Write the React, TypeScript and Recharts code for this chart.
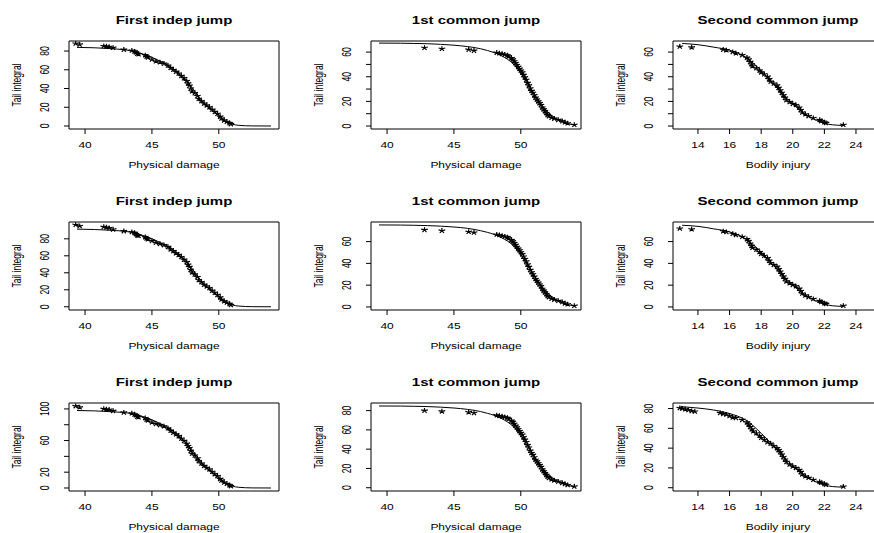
import { ComposedChart, Line, Scatter, XAxis, YAxis, ReferenceArea } from 'recharts'

const FONT = '"Liberation Sans", Arial, Helvetica, sans-serif'
// the source figure is squashed vertically, so text is too
const SQUISH = 0.71

const titles = ['First indep jump', '1st common jump', 'Second common jump']
const xTitles = ['Physical damage', 'Physical damage', 'Bodily injury']
const yTitle = 'Tail integral'

const damageTicks = [40, 45, 50]
const injuryTicks = [14, 16, 18, 20, 22, 24]
const damageDomain: [number, number] = [38.8, 54.5]
const injuryDomain: [number, number] = [12.42, 25.71]

// y axis ticks / labelled ticks / domains, one per panel (row by row)
const yTicks = [
  [[0, 20, 40, 60, 80], [0, 10, 20, 30, 40, 50, 60], [0, 10, 20, 30, 40, 50, 60]],
  [[0, 20, 40, 60, 80], [0, 20, 40, 60], [0, 20, 40, 60]],
  [[0, 20, 40, 60, 80, 100], [0, 20, 40, 60, 80], [0, 20, 40, 60, 80]],
]
const yLabelled = [
  [[0, 20, 40, 60, 80], [0, 20, 40, 60], [0, 20, 40, 60]],
  [[0, 20, 40, 60, 80], [0, 20, 40, 60], [0, 20, 40, 60]],
  [[0, 20, 60, 100], [0, 20, 40, 60, 80], [0, 20, 40, 60, 80]],
]
const yDomains: [number, number][][] = [
  [[-3.2, 90.7], [-2.4, 69], [-2.4, 69]],
  [[-3.8, 99.8], [-2.8, 78], [-2.8, 78]],
  [[-3.8, 107.5], [-3.4, 87.9], [-3.3, 85.6]],
]

// ---- row 1 ----
const r1IndepStars = [
  [39.3, 88], [39.6, 87], [41.4, 85.3], [41.6, 85], [41.8, 84.5], [42.1, 83.5], [42.9, 81.5], [43.5, 80.5],
  [43.7, 79.5], [43.8, 78.5], [43.9, 77], [44.0, 76.5], [44.5, 75.5], [44.6, 74], [44.7, 73], [45.0, 71],
  [45.3, 69], [45.6, 68], [45.9, 66.5], [46.2, 64.5], [46.4, 62], [46.6, 60], [46.8, 58], [47.0, 56],
  [47.2, 53.5], [47.4, 51], [47.6, 48], [47.7, 45.5], [47.8, 43], [47.9, 40], [48.0, 37], [48.2, 35],
  [48.4, 32], [48.5, 29], [48.7, 26.5], [48.9, 24], [49.1, 22], [49.3, 20], [49.5, 17.5], [49.7, 15],
  [49.9, 13], [50.1, 10], [50.2, 8], [50.4, 6], [50.6, 4.5], [50.8, 3], [50.9, 2],
]
const r1IndepCurve = [
  [39.4, 83.9], [42, 82.5], [43.5, 80], [44.5, 76], [45.5, 70], [46.5, 62], [47.5, 49], [48, 41],
  [48.5, 31], [49, 23], [49.5, 17], [50, 11], [50.5, 5.5], [51, 2], [51.5, 0.7], [52.5, 0.1], [53.9, 0],
]
const r1FirstStars = [
  [42.8, 63.5], [44.1, 62.7], [46.1, 62], [46.5, 61.2], [48.2, 59.5], [48.4, 59], [48.6, 58.5], [48.8, 58],
  [49.0, 57.3], [49.1, 56.5], [49.3, 55], [49.4, 54], [49.5, 52.5], [49.6, 51], [49.7, 49.5], [49.8, 48],
  [49.9, 46.5], [50.0, 45], [50.1, 43.5], [50.2, 41.5], [50.3, 39.5], [50.4, 37.5], [50.5, 35], [50.6, 33],
  [50.7, 30.5], [50.8, 28.5], [50.9, 27], [51.0, 25], [51.1, 23], [51.2, 21.5], [51.3, 20], [51.4, 18.5],
  [51.5, 17], [51.6, 15], [51.7, 13.5], [51.8, 12], [51.9, 10.5], [52.0, 9], [52.1, 8], [52.3, 6.8],
  [52.5, 6], [52.8, 5], [53.1, 4], [53.3, 3], [53.5, 2.2], [54.0, 1],
]
const r1FirstCurve = [
  [39.4, 67.3], [41, 67.2], [42, 67], [43, 66.8], [44, 66.3], [45, 65.6], [46, 64.5], [47, 62.7],
  [47.5, 61.3], [48, 59.6], [48.5, 57.3], [49, 54.2], [49.5, 49.8], [50, 43], [50.5, 34.5], [51, 26],
  [51.5, 18], [52, 11.5], [52.5, 7], [53, 3.9], [53.5, 2], [54, 1],
]
const r1SecondStars = [
  [12.85, 64.5], [13.6, 63.8], [15.6, 62], [15.8, 61.5], [16.2, 60], [16.4, 59], [16.8, 57.5], [17.1, 55.5],
  [17.2, 54], [17.3, 52], [17.4, 50], [17.45, 48.5], [17.7, 47], [17.9, 45], [18.0, 43.5], [18.2, 42],
  [18.4, 40], [18.5, 38], [18.6, 36], [18.8, 34.5], [19.0, 33], [19.1, 31], [19.2, 29], [19.3, 27],
  [19.4, 25], [19.5, 23], [19.6, 21], [19.8, 19.5], [20.0, 18], [20.2, 17], [20.4, 15], [20.5, 13],
  [20.6, 11], [20.8, 9.5], [21.0, 8], [21.3, 6.5], [21.7, 5], [21.8, 4], [22.0, 3], [22.1, 2.5], [23.2, 1],
]
const r1SecondCurve = [
  [13.0, 67], [14, 66], [15, 64], [16, 61.5], [17, 56], [17.5, 51], [18, 45], [18.5, 38], [19, 31],
  [19.5, 24], [20, 18], [20.5, 12.5], [21, 8], [21.5, 4.5], [22, 2.3], [22.5, 1], [23.2, 0.5],
]

// ---- row 2 ----
const r2IndepStars = [
  [39.3, 96.5], [39.6, 95], [41.4, 94], [41.6, 93.5], [41.8, 92.5], [42.1, 91], [42.9, 89], [43.5, 88],
  [43.7, 87], [43.8, 85.5], [43.9, 84], [44.0, 83.5], [44.5, 82], [44.6, 80.5], [44.7, 79.5], [45.0, 77.5],
  [45.3, 75.5], [45.6, 74], [45.9, 72.5], [46.2, 70.5], [46.4, 67.5], [46.6, 65.5], [46.8, 63], [47.0, 61],
  [47.2, 58.5], [47.4, 55.5], [47.6, 52.5], [47.7, 49.5], [47.8, 47], [47.9, 43.5], [48.0, 40.5], [48.2, 38],
  [48.4, 35], [48.5, 31.5], [48.7, 29], [48.9, 26], [49.1, 24], [49.3, 22], [49.5, 19], [49.7, 16.5],
  [49.9, 14], [50.1, 11], [50.2, 8.5], [50.4, 6.5], [50.6, 5], [50.8, 3.3], [50.9, 2],
]
const r2IndepCurve = [
  [39.4, 91.4], [42, 90], [43.5, 87.5], [44.5, 83], [45.5, 76.5], [46.5, 68], [47.5, 54], [48, 45],
  [48.5, 34], [49, 25], [49.5, 18], [50, 12], [50.5, 6], [51, 2.2], [51.5, 0.8], [52.5, 0.1], [53.9, 0],
]
const r2FirstStars = [
  [42.8, 70.7], [44.1, 70], [46.1, 69], [46.5, 68.3], [48.2, 66.5], [48.4, 66], [48.6, 65.3], [48.8, 64.7],
  [49.0, 64], [49.1, 63], [49.3, 61.3], [49.4, 60.2], [49.5, 58.5], [49.6, 57], [49.7, 55.2], [49.8, 53.5],
  [49.9, 52], [50.0, 50.2], [50.1, 48.5], [50.2, 46.3], [50.3, 44], [50.4, 41.8], [50.5, 39], [50.6, 36.8],
  [50.7, 34], [50.8, 31.8], [50.9, 30], [51.0, 27.8], [51.1, 25.6], [51.2, 24], [51.3, 22.3], [51.4, 20.6],
  [51.5, 19], [51.6, 16.7], [51.7, 15], [51.8, 13.4], [51.9, 11.7], [52.0, 10], [52.1, 9], [52.3, 7.6],
  [52.5, 6.7], [52.8, 5.6], [53.1, 4.5], [53.3, 3.3], [53.5, 2.4], [54.0, 1.1],
]
const r2FirstCurve = [
  [39.4, 75.3], [41, 75.2], [42, 75], [43, 74.7], [44, 74.2], [45, 73.4], [46, 72.2], [47, 70],
  [47.5, 68.5], [48, 66.6], [48.5, 64], [49, 60.5], [49.5, 55.6], [50, 48], [50.5, 38.5], [51, 29],
  [51.5, 20.2], [52, 12.8], [52.5, 7.8], [53, 4.3], [53.5, 2.2], [54, 1.1],
]
const r2SecondStars = [
  [12.85, 72], [13.6, 71.3], [15.6, 69.5], [15.8, 68.8], [16.2, 67.2], [16.4, 66], [16.8, 64.4], [17.1, 62.2],
  [17.2, 60.5], [17.3, 58.2], [17.4, 56], [17.45, 54.3], [17.7, 52.6], [17.9, 50.4], [18.0, 48.7], [18.2, 47],
  [18.4, 44.8], [18.5, 42.5], [18.6, 40.3], [18.8, 38.6], [19.0, 37], [19.1, 34.7], [19.2, 32.5], [19.3, 30.2],
  [19.4, 28], [19.5, 25.8], [19.6, 23.5], [19.8, 21.8], [20.0, 20.2], [20.2, 19], [20.4, 16.8], [20.5, 14.6],
  [20.6, 12.3], [20.8, 10.6], [21.0, 9], [21.3, 7.3], [21.7, 5.6], [21.8, 4.5], [22.0, 3.4], [22.1, 2.8], [23.2, 1.1],
]
const r2SecondCurve = [
  [13.0, 75], [14, 74], [15, 71.7], [16, 68.9], [17, 62.7], [17.5, 57.1], [18, 50.4], [18.5, 42.6],
  [19, 34.7], [19.5, 26.9], [20, 20.2], [20.5, 14], [21, 9], [21.5, 5], [22, 2.6], [22.5, 1.1], [23.2, 0.5],
]

// ---- row 3 ----
const r3IndepStars = [
  [39.3, 103.5], [39.6, 102], [41.4, 100], [41.6, 99.5], [41.8, 99], [42.1, 97.5], [42.9, 95.5], [43.5, 94.5],
  [43.7, 93], [43.8, 92], [43.9, 90], [44.0, 89.5], [44.5, 88.5], [44.6, 86.5], [44.7, 85.5], [45.0, 83],
  [45.3, 81], [45.6, 79.5], [45.9, 78], [46.2, 75.5], [46.4, 72.5], [46.6, 70], [46.8, 68], [47.0, 65.5],
  [47.2, 62.5], [47.4, 59.5], [47.6, 56], [47.7, 53], [47.8, 50.5], [47.9, 47], [48.0, 43.5], [48.2, 41],
  [48.4, 37.5], [48.5, 34], [48.7, 31], [48.9, 28], [49.1, 25.5], [49.3, 23.5], [49.5, 20.5], [49.7, 17.5],
  [49.9, 15], [50.1, 11.5], [50.2, 9.5], [50.4, 7], [50.6, 5.3], [50.8, 3.5], [50.9, 2.3],
]
const r3IndepCurve = [
  [39.4, 98], [42, 96.5], [43.5, 94], [44.5, 89.5], [45.5, 82.5], [46.5, 73], [47.5, 58], [48, 48.5],
  [48.5, 37], [49, 27], [49.5, 19.5], [50, 13], [50.5, 6.5], [51, 2.4], [51.5, 0.9], [52.5, 0.1], [53.9, 0],
]
const r3FirstStars = [
  [42.8, 80], [44.1, 79.2], [46.1, 78.3], [46.5, 77.5], [48.2, 75.2], [48.4, 74.5], [48.6, 74], [48.8, 73.3],
  [49.0, 72.4], [49.1, 71.3], [49.3, 69.5], [49.4, 68.2], [49.5, 66.3], [49.6, 64.4], [49.7, 62.5], [49.8, 60.6],
  [49.9, 58.7], [50.0, 56.8], [50.1, 55], [50.2, 52.4], [50.3, 49.9], [50.4, 47.4], [50.5, 44.2], [50.6, 41.7],
  [50.7, 38.5], [50.8, 36], [50.9, 34], [51.0, 31.6], [51.1, 29], [51.2, 27.2], [51.3, 25.3], [51.4, 23.4],
  [51.5, 21.5], [51.6, 19], [51.7, 17], [51.8, 15.2], [51.9, 13.3], [52.0, 11.4], [52.1, 10.1], [52.3, 8.6],
  [52.5, 7.6], [52.8, 6.3], [53.1, 5], [53.3, 3.8], [53.5, 2.8], [54.0, 1.3],
]
const r3FirstCurve = [
  [39.4, 84.8], [41, 84.7], [42, 84.5], [43, 84.2], [44, 83.6], [45, 82.7], [46, 81.3], [47, 79],
  [47.5, 77.2], [48, 75.1], [48.5, 72.2], [49, 68.3], [49.5, 62.7], [50, 54.2], [50.5, 43.5], [51, 32.8],
  [51.5, 22.7], [52, 14.4], [52.5, 8.8], [53, 4.9], [53.5, 2.5], [54, 1.2],
]
const r3SecondStars = [
  [12.85, 80.5], [13.0, 80], [13.2, 79.3], [13.4, 78.5], [13.6, 77.5], [13.8, 77], [15.4, 75.5], [15.6, 74.5],
  [15.8, 74], [16.0, 72.5], [16.2, 71], [16.4, 70.5], [16.8, 68.5], [17.1, 66], [17.2, 64], [17.3, 61.5],
  [17.4, 59], [17.5, 57], [17.7, 55], [17.9, 52.5], [18.0, 50.5], [18.2, 48.5], [18.4, 46], [18.6, 44.5],
  [18.8, 42], [19.0, 40], [19.1, 38], [19.2, 36], [19.3, 33.5], [19.4, 31], [19.5, 28.5], [19.6, 26],
  [19.8, 23.5], [20.0, 21.5], [20.2, 20], [20.4, 18], [20.5, 16], [20.6, 13.5], [20.8, 11.5], [21.0, 10],
  [21.3, 8], [21.7, 6], [21.8, 5], [22.0, 3.8], [22.1, 3], [23.2, 1.2],
]
const r3SecondCurve = [
  [12.9, 82], [14, 80.5], [15, 78.5], [16, 75], [17, 68.5], [17.5, 62.5], [18, 55], [18.5, 47], [19, 38.5],
  [19.5, 30], [20, 22], [20.5, 15.5], [21, 10], [21.5, 5.5], [22, 2.8], [22.5, 1.2], [23.2, 0.6],
]

const stars = [
  [r1IndepStars, r1FirstStars, r1SecondStars],
  [r2IndepStars, r2FirstStars, r2SecondStars],
  [r3IndepStars, r3FirstStars, r3SecondStars],
]
const curves = [
  [r1IndepCurve, r1FirstCurve, r1SecondCurve],
  [r2IndepCurve, r2FirstCurve, r2SecondCurve],
  [r3IndepCurve, r3FirstCurve, r3SecondCurve],
]

const PANEL_W = 302
const PANEL_H = 181

const toPoints = (arr: number[][]) => arr.map(([x, y]) => ({ x, y }))

// R's pch="*"
const Star = (props: any) => {
  const { cx, cy } = props
  if (cx == null || cy == null) return <g />
  let d = ''
  for (let i = 0; i < 5; i++) {
    const a = ((-90 + 72 * i) * Math.PI) / 180
    d += `M${cx},${cy}L${cx + 3.5 * Math.cos(a)},${cy + 2.6 * Math.sin(a)}`
  }
  return <path d={d} stroke="#000" strokeWidth={1.2} fill="none" />
}

// text squashed like the source; `turn` writes it bottom-to-top
const RText = ({ x, y, text, turn }: { x: number; y: number; text: string | number; turn?: boolean }) => (
  <g transform={`translate(${x},${y})`}>
    <g transform={`scale(1,${SQUISH})`}>
      <text
        transform={turn ? 'rotate(-90)' : undefined}
        x={0}
        y={0}
        textAnchor="middle"
        dominantBaseline="central"
        fontSize={12}
        fontFamily={FONT}
        fill="#000"
      >
        {text}
      </text>
    </g>
  </g>
)

function Panel({ row, col }: { row: number; col: number }) {
  const isInjury = col === 2
  const xDomain = isInjury ? injuryDomain : damageDomain
  const xTicks = isInjury ? injuryTicks : damageTicks
  const yDomain = yDomains[row][col]
  const labelled = yLabelled[row][col]

  const XTick = (p: any) => <RText x={p.x} y={p.y + 11} text={p.payload.value} />
  const YTick = (p: any) =>
    labelled.includes(p.payload.value) ? <RText x={p.x - 19} y={p.y} text={p.payload.value} turn /> : <g />

  return (
    <div style={{ position: 'absolute', left: col * PANEL_W, top: row * PANEL_H, width: PANEL_W, height: PANEL_H }}>
      <div
        style={{
          position: 'absolute',
          left: 69,
          top: 12,
          width: 210,
          textAlign: 'center',
          fontFamily: FONT,
          fontWeight: 'bold',
          fontSize: 15,
          lineHeight: '16px',
          whiteSpace: 'nowrap',
          transform: `scaleY(${SQUISH})`,
        }}
      >
        {titles[col]}
      </div>
      <ComposedChart width={PANEL_W} height={PANEL_H} margin={{ top: 41, right: 23, bottom: 12, left: 9 }}>
        <XAxis
          dataKey="x"
          type="number"
          domain={xDomain}
          ticks={xTicks}
          interval={0}
          allowDataOverflow
          height={40}
          axisLine={false}
          tickSize={5}
          tickMargin={0}
          tickLine={{ stroke: '#000' }}
          tick={XTick}
          label={(p: any) => (
            <RText x={p.viewBox.x + p.viewBox.width / 2} y={p.viewBox.y + 36} text={xTitles[col]} />
          )}
        />
        <YAxis
          type="number"
          domain={yDomain}
          ticks={yTicks[row][col]}
          interval={0}
          allowDataOverflow
          width={60}
          axisLine={false}
          tickSize={5}
          tickMargin={0}
          tickLine={{ stroke: '#000' }}
          tick={YTick}
          label={(p: any) => (
            <RText
              x={p.viewBox.x + p.viewBox.width - 52}
              y={p.viewBox.y + p.viewBox.height / 2}
              text={yTitle}
              turn
            />
          )}
        />
        <ReferenceArea
          x1={xDomain[0]}
          x2={xDomain[1]}
          y1={yDomain[0]}
          y2={yDomain[1]}
          ifOverflow="visible"
          fill="none"
          stroke="#000"
          strokeWidth={1}
        />
        <Line
          data={toPoints(curves[row][col])}
          dataKey="y"
          type="monotone"
          stroke="#000"
          strokeWidth={1}
          dot={false}
          activeDot={false}
          isAnimationActive={false}
        />
        <Scatter data={toPoints(stars[row][col])} dataKey="y" shape={Star} isAnimationActive={false} />
      </ComposedChart>
    </div>
  )
}

export default function App() {
  return (
    <div
      style={{
        position: 'absolute',
        left: 0,
        top: 0,
        width: 874,
        height: 533,
        overflow: 'hidden',
        background: '#fff',
      }}
    >
      {[0, 1, 2].map((row) => [0, 1, 2].map((col) => <Panel key={`${row}-${col}`} row={row} col={col} />))}
    </div>
  )
}
